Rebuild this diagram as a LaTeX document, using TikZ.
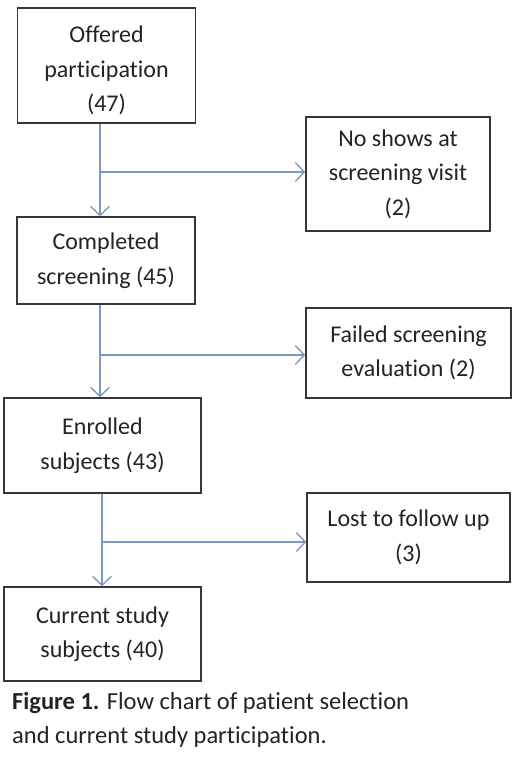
\documentclass[tikz,border=0pt]{standalone}
\usepackage{fontspec}
\setmainfont[Ligatures=NoCommon]{Carlito}
\usetikzlibrary{arrows.meta}
\definecolor{linec}{RGB}{122,152,192}
\definecolor{boxc}{RGB}{55,55,55}
\definecolor{txtc}{RGB}{35,35,35}
\begin{document}
\begin{tikzpicture}[x=1pt,y=-1pt,
  box/.style={draw=boxc,line width=1.6pt,rectangle,inner sep=0pt,align=center,text=txtc,
    font=\fontsize{24}{34.5}\selectfont},
  arr/.style={draw=linec,line width=1.3pt,-{Straight Barb[length=9pt,width=19pt,line width=1.3pt]}},
  captext/.style={inner sep=0pt,text=txtc,anchor=base west,font=\fontsize{24.5}{35}\selectfont}]
\useasboundingbox[fill=white] (0,0) rectangle (520,759);
\node[box,minimum width=178pt,minimum height=115pt] (b1) at (106.5,65.5) {\rule{0pt}{27pt}Offered\\participation\\(47)};
\node[box,minimum width=178pt,minimum height=87pt] (b2) at (106,260.5) {Completed\\screening (45)};
\node[box,minimum width=197pt,minimum height=95pt] (b3) at (102.5,445.5) {Enrolled\\subjects (43)};
\node[box,minimum width=197pt,minimum height=94pt] (b4) at (102.5,634) {Current study\\subjects (40)};
\node[box,minimum width=184pt,minimum height=114pt] (s1) at (398,174) {No shows at\\screening visit\\(2)};
\node[box,minimum width=205pt,minimum height=90pt] (s2) at (408.5,353) {Failed screening\\evaluation (2)};
\node[box,minimum width=203pt,minimum height=89pt] (s3) at (408.5,537.5) {Lost to follow up\\(3)};
\coordinate (j1) at (100,172);
\coordinate (j2) at (100,355);
\coordinate (j3) at (102,542);
\draw[arr] (b1.south -| j1) -- (b2.north -| j1);
\draw[arr] (j1) -- (s1.west |- j1);
\draw[arr] (b2.south -| j2) -- (b3.north -| j2);
\draw[arr] (j2) -- (s2.west |- j2);
\draw[arr] (b3.south -| j3) -- (b4.north -| j3);
\draw[arr] (j3) -- (s3.west |- j3);
\node[captext] (capA) at (12,709) {\textbf{Figure 1.} Flow chart of patient selection};
\node[captext] (capB) at (12,743) {and current study participation.};
\end{tikzpicture}
\end{document}
